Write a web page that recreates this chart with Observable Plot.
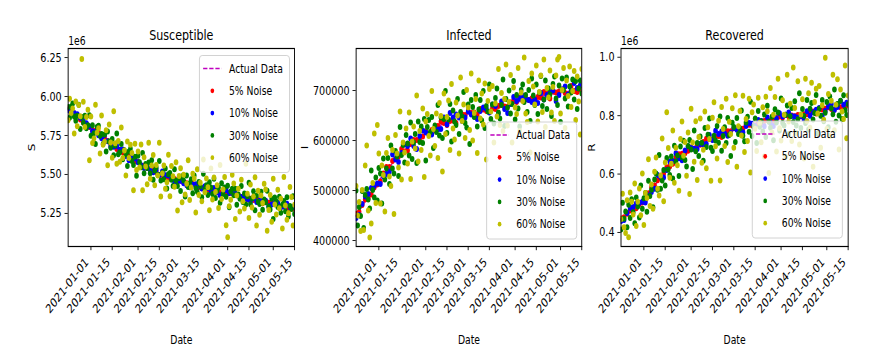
<!DOCTYPE html>
<html><head><meta charset="utf-8">
<script src="https://cdn.jsdelivr.net/npm/d3@7"></script>
<script src="https://cdn.jsdelivr.net/npm/@observablehq/plot@0.6"></script>
<style>
html,body{margin:0;padding:0;background:#fff;overflow:hidden;}
#wrap{width:875px;height:352px;overflow:hidden;position:relative;background:#fff;}
#stage{position:absolute;left:0;top:0;width:1136px;height:352px;transform:scaleX(0.77);transform-origin:0 0;}
</style></head>
<body><div id="wrap"><div id="stage"></div></div>
<script>
// ---------- categories / labels ----------
const startDate = "2020-12-17";
const endDate = "2021-05-15";
const xTickLabels = ["2021-01-01","2021-01-15","2021-02-01","2021-02-15","2021-03-01","2021-03-15","2021-04-01","2021-04-15","2021-05-01","2021-05-15"];
const panelTitles = ["Susceptible","Infected","Recovered"];
const yLabels = ["S","I","R"];
const legendLabels = ["Actual Data","5% Noise","10% Noise","30% Noise","60% Noise"];
const actualColor = "#bf00bf";
const seriesColors = ["#ff0000","#0000ff","#008000","#bfbf00"];

// y tick values (in thousands, same unit as the series)
const S_ticks = [5250,5500,5750,6000,6250];
const I_ticks = [400,500,600,700];
const R_ticks = [400,600,800,1000];

// ---------- series values (thousands of people) ----------
// Actual data and 5% / 10% noise: every other day; 30% / 60% noise: daily
const S_actual = [5920,5904,5888,5872,5856,5840,5824,5808,5792,5776,5760,5744,5728,5712,5696,5680,5667,5654,5641,5628,5615,5602,5589,5576,5566,5556,5546,5536,5526,5516,5506,5498,5490,5482,5474,5466,5458,5450,5445,5441,5436,5432,5427,5423,5418,5413,5409,5404,5400,5395,5390,5386,5381,5377,5372,5368,5363,5358,5354,5349,5345,5340,5335,5331,5326,5322,5317,5313,5308,5303,5299,5294,5290,5285,5281];
const S_noise5 = [5924,5902,5891,5878,5853,5834,5824,5804,5784,5780,5770,5746,5734,5715,5695,5689,5663,5647,5643,5635,5616,5595,5587,5580,5558,5555,5541,5538,5535,5516,5497,5496,5487,5471,5479,5471,5459,5459,5448,5443,5431,5439,5431,5420,5411,5413,5406,5408,5406,5393,5384,5391,5389,5379,5382,5370,5367,5356,5355,5341,5344,5336,5344,5334,5316,5329,5319,5317,5316,5300,5292,5306,5288,5279,5281];
const S_noise10 = [5913,5892,5894,5886,5864,5852,5828,5807,5777,5772,5752,5733,5753,5713,5679,5678,5682,5658,5660,5618,5591,5607,5603,5578,5559,5542,5545,5528,5514,5531,5497,5519,5495,5493,5474,5453,5453,5459,5444,5431,5418,5434,5437,5426,5410,5425,5414,5387,5414,5386,5367,5388,5400,5381,5381,5383,5364,5355,5344,5343,5326,5348,5324,5331,5332,5332,5296,5308,5317,5319,5290,5295,5312,5290,5292];
const S_noise30 = [5932,5864,5936,5956,5872,5844,5876,5948,5792,5868,5832,5876,5796,5816,5880,5748,5816,5764,5696,5804,5812,5748,5760,5696,5756,5648,5776,5712,5672,5728,5624,5686,5763,5629,5642,5696,5597,5655,5628,5554,5647,5665,5586,5560,5613,5491,5620,5579,5546,5637,5508,5567,5542,5577,5508,5591,5466,5525,5544,5499,5586,5462,5510,5470,5538,5410,5502,5510,5466,5426,5534,5462,5426,5478,5394,5488,5461,5359,5493,5419,5444,5470,5380,5493,5411,5389,5451,5424,5354,5504,5405,5431,5369,5450,5416,5374,5472,5349,5395,5417,5318,5444,5374,5416,5357,5427,5289,5390,5408,5366,5408,5305,5371,5345,5426,5324,5378,5308,5361,5447,5309,5346,5392,5270,5363,5325,5311,5389,5274,5340,5322,5395,5293,5275,5345,5214,5352,5326,5291,5357,5255,5305,5330,5264,5354,5231,5297,5279,5361,5246];
const S_noise60 = [5848,5985,5895,5923,5762,5968,5809,5945,5874,6240,5966,5805,5869,5915,5592,5872,5702,5730,5947,5768,5796,5635,5879,5691,5710,5783,5559,5821,5705,5607,5905,5701,5568,5715,5582,5801,5605,5653,5493,5712,5606,5690,5638,5398,5697,5529,5648,5544,5692,5399,5610,5551,5438,5703,5473,5558,5625,5431,5561,5493,5704,5358,5507,5557,5409,5450,5626,5361,5555,5488,5421,5579,5269,5490,5540,5322,5499,5371,5441,5592,5337,5416,5504,5474,5256,5533,5369,5447,5328,5596,5386,5474,5418,5271,5539,5339,5481,5388,5431,5285,5561,5343,5404,5483,5174,5098,5296,5338,5498,5442,5215,5365,5408,5262,5466,5329,5282,5568,5376,5221,5435,5288,5358,5482,5173,5396,5241,5365,5317,5441,5403,5139,5272,5369,5196,5472,5308,5243,5402,5283,5344,5153,5483,5301,5209,5251,5420,5355,5173,5305];

const I_actual = [450,459,469,478,487,497,506,515,524,531,539,546,554,561,569,576,581,586,591,596,600,605,610,615,618,622,625,628,631,635,638,640,642,644,646,648,650,652,653,655,656,658,659,661,662,664,665,666,668,669,671,672,674,676,678,679,681,683,684,686,688,689,690,691,692,693,694,695,696,697,698,699,700,701,702];
const I_noise5 = [453,457,471,482,485,492,506,512,518,534,547,547,559,563,568,583,578,580,593,601,601,600,608,618,612,621,621,629,638,635,631,639,640,635,650,652,651,659,655,656,652,663,662,659,657,664,663,669,672,668,667,676,680,677,686,680,684,681,684,680,687,686,697,693,684,698,696,698,702,695,692,709,699,697,702];
const I_noise10 = [445,451,473,488,493,505,509,514,513,528,533,538,572,562,557,575,592,589,604,589,583,609,620,616,613,612,624,622,623,646,632,655,646,652,646,639,646,658,652,648,643,659,666,663,656,672,669,654,678,663,655,673,687,679,684,690,682,681,677,682,675,695,682,691,696,700,679,691,702,708,692,700,715,705,710];
const I_noise30 = [500,430,467,449,499,425,491,503,482,464,540,501,486,526,480,545,534,474,564,522,544,565,513,590,544,534,579,568,529,627,571,591,556,611,594,570,636,563,596,613,555,638,597,628,595,643,560,627,641,617,647,585,630,617,671,610,646,605,643,699,615,642,673,598,660,638,631,683,613,657,648,697,635,626,672,593,681,667,647,691,628,662,681,640,699,625,669,658,712,643,672,634,685,704,656,644,671,722,629,683,666,700,654,673,719,642,691,664,628,701,712,677,691,657,701,639,724,690,671,712,653,696,729,669,682,720,663,704,692,649,713,728,684,671,710,637,724,701,684,726,668,708,696,722,682,719,663,704,720,694];
const I_noise60 = [509,450,477,419,501,421,550,590,460,406,434,515,614,475,631,574,474,550,531,458,575,605,528,509,581,453,611,574,546,658,522,596,576,624,554,656,523,598,628,584,690,558,619,581,664,527,638,653,609,570,699,623,589,654,565,675,649,538,694,613,647,680,581,713,624,602,676,650,574,726,639,672,605,701,666,621,734,600,655,683,575,720,644,694,632,714,562,679,703,658,709,596,674,648,743,631,695,619,683,752,630,677,731,596,706,666,653,745,619,696,679,766,654,637,719,576,734,708,672,750,638,697,730,657,762,627,705,686,740,656,707,639,730,762,767,654,701,745,625,720,689,748,667,699,739,641,728,678,612,743];

const R_actual = [445,454,462,471,480,488,497,506,517,531,546,560,574,589,603,616,629,641,654,663,669,676,682,688,693,699,704,709,714,720,725,729,732,736,739,743,746,750,753,756,759,763,766,769,772,774,777,779,781,784,786,788,791,793,795,797,798,800,802,804,806,808,810,812,815,817,819,821,823,825,827,829,830,832,834];
const R_noise5 = [448,452,464,475,478,483,497,503,511,534,554,561,579,591,602,623,626,635,656,668,670,671,680,691,687,698,700,710,721,720,718,728,730,727,743,747,747,757,755,757,755,768,769,767,767,774,775,782,785,783,782,792,797,794,803,798,801,798,802,798,805,805,817,814,807,822,821,824,829,823,821,839,829,828,834];
const R_noise10 = [439,443,467,484,487,499,501,505,503,527,539,550,597,590,588,614,643,645,671,654,647,681,695,690,687,686,703,702,703,734,717,748,737,746,739,731,741,758,752,747,743,765,775,772,765,785,782,764,794,776,765,790,808,797,803,811,799,797,793,799,789,815,800,812,820,826,800,816,831,839,819,830,850,837,844];
const R_noise30 = [410,502,447,472,418,495,450,514,469,432,520,489,451,561,481,517,535,471,577,525,546,486,581,602,546,665,550,578,614,561,655,616,597,660,585,697,643,664,593,694,658,714,648,626,696,717,684,617,749,678,706,662,729,707,646,758,693,735,790,690,679,731,715,765,707,797,680,730,760,706,792,734,662,776,761,710,792,737,756,818,731,712,777,796,745,848,730,763,790,706,816,762,781,746,804,727,834,779,759,796,716,822,777,811,749,859,775,766,802,835,737,798,826,778,849,766,788,877,758,823,799,775,854,753,824,843,787,809,871,739,824,800,854,781,810,847,760,866,825,805,890,779,840,801,851,789,870,819,802,839];
const R_noise60 = [445,533,418,398,510,384,537,505,462,568,422,505,551,459,602,426,535,518,651,491,564,481,608,657,550,527,595,722,507,640,812,689,587,635,749,570,690,630,543,720,780,663,710,594,742,532,824,708,642,781,580,727,790,639,683,814,620,760,720,577,793,846,695,653,783,578,830,754,696,858,641,779,737,825,690,870,625,764,816,732,868,676,789,713,858,605,812,838,755,679,861,776,709,829,660,865,815,604,895,742,803,864,677,926,757,715,853,803,659,940,780,841,713,965,826,741,918,701,804,856,653,926,782,877,759,913,625,847,892,807,902,690,836,786,998,754,874,730,851,940,750,837,925,684,890,814,789,972,723,869];

// ---------- dates ----------
const dailyDates = d3.utcDay.range(new Date(startDate), d3.utcDay.offset(new Date(endDate), 1));
const everyOtherDate = dailyDates.filter((d, i) => i % 2 === 0);
const xTickDates = xTickLabels.map(s => new Date(s));

const FONT = "DejaVu Sans, sans-serif";
const rows = (vals, dates) => vals.map((v, i) => ({date: dates[i], value: v}));

function drawLegend(svg, left, top) {
  const g = d3.select(svg).append("g").attr("transform", `translate(${left},${top})`)
    .attr("text-anchor", "start");
  g.append("rect").attr("width", 117).attr("height", 117).attr("rx", 3.5)
    .attr("fill", "#fff").attr("fill-opacity", 0.8).attr("stroke", "#cccccc").attr("stroke-width", 1);
  const rowY = i => 13 + i * 22.3;
  g.append("line").attr("x1", 4.8).attr("x2", 28.8).attr("y1", rowY(0)).attr("y2", rowY(0))
    .attr("stroke", actualColor).attr("stroke-width", 1.5).attr("stroke-dasharray", "5.55,2.4");
  seriesColors.forEach((c, i) => g.append("circle").attr("cx", 16.8).attr("cy", rowY(i + 1)).attr("r", 2.4).attr("fill", c));
  legendLabels.forEach((t, i) => g.append("text").attr("x", 38.4).attr("y", rowY(i)).attr("dy", "0.35em")
    .attr("text-anchor", "start").attr("font-size", 12).attr("font-family", FONT).attr("fill", "#000").text(t));
}

function panel(cfg) {
  const svg = Plot.plot({
    width: cfg.width, height: 352,
    marginLeft: cfg.ml, marginRight: cfg.mr, marginTop: 48, marginBottom: 106,
    style: {fontFamily: FONT, fontSize: "12.5px", color: "#000", background: "transparent", overflow: "visible"},
    x: {type: "utc", domain: [new Date(startDate), new Date(endDate)]},
    y: {domain: cfg.yDomain},
    marks: [
      Plot.lineY(rows(cfg.actual, everyOtherDate), {x: "date", y: "value", stroke: actualColor, strokeWidth: 1.5, strokeDasharray: "5.55,2.4", clip: true}),
      Plot.dot(rows(cfg.n5, everyOtherDate), {x: "date", y: "value", r: 3, fill: seriesColors[0], clip: true}),
      Plot.dot(rows(cfg.n10, everyOtherDate), {x: "date", y: "value", r: 3, fill: seriesColors[1], clip: true}),
      Plot.dot(rows(cfg.n30, dailyDates), {x: "date", y: "value", r: 3, fill: seriesColors[2], clip: true}),
      Plot.dot(rows(cfg.n60, dailyDates), {x: "date", y: "value", r: 3, fill: seriesColors[3], clip: true}),
      Plot.frame({stroke: "#000", strokeWidth: 1.2}),
      Plot.axisY({ticks: cfg.yTicks, tickFormat: cfg.fmt, tickSize: 4.2, tickPadding: 4.2, label: null}),
      Plot.axisX({ticks: xTickDates, tickFormat: () => "", tickSize: 4.2, label: null}),
      Plot.text(xTickLabels, {x: d => new Date(d), text: d => d, frameAnchor: "bottom", rotate: -45,
        textAnchor: "end", lineAnchor: "middle", dx: -5.1, dy: 13.5, fontSize: 12.5}),
      Plot.text([cfg.title], {text: d => d, frameAnchor: "top", textAnchor: "middle", lineAnchor: "middle", dy: -13.6, fontSize: 14.4}),
      Plot.text(["Date"], {text: d => d, frameAnchor: "bottom", textAnchor: "middle", lineAnchor: "middle", dy: 93.2, fontSize: 12}),
      Plot.text([cfg.yLabel], {text: d => d, frameAnchor: "left", textAnchor: "middle", lineAnchor: "middle", rotate: -90, dx: cfg.yLabelDx, fontSize: 12}),
      cfg.exp ? Plot.text(["1e6"], {text: d => d, frameAnchor: "top-left", textAnchor: "start", lineAnchor: "middle", dy: -7.8, fontSize: 12}) : null
    ]
  });
  svg.style.position = "absolute";
  svg.style.left = cfg.left + "px";
  svg.style.top = "0px";
  svg.style.maxWidth = "none";
  drawLegend(svg, cfg.legend[0], cfg.legend[1]);
  document.getElementById("stage").appendChild(svg);
}

panel({left: 0, width: 390, ml: 88, mr: 8, yDomain: [5038, 6308], yTicks: S_ticks, fmt: d => (d / 1000).toFixed(2),
  title: panelTitles[0], yLabel: yLabels[0], yLabelDx: -47.5, exp: true,
  actual: S_actual, n5: S_noise5, n10: S_noise10, n30: S_noise30, n60: S_noise60, legend: [259, 55.5]});
panel({left: 390, width: 375, ml: 72, mr: 10, yDomain: [388, 784], yTicks: I_ticks, fmt: d => String(d * 1000),
  title: panelTitles[1], yLabel: yLabels[1], yLabelDx: -65.9, exp: false,
  actual: I_actual, n5: I_noise5, n10: I_noise10, n30: I_noise30, n60: I_noise60, legend: [632 - 390, 122]});
panel({left: 765, width: 371, ml: 41, mr: 35, yDomain: [352, 1030], yTicks: R_ticks, fmt: d => (d / 1000).toFixed(1),
  title: panelTitles[2], yLabel: yLabels[2], yLabelDx: -38.1, exp: true,
  actual: R_actual, n5: R_noise5, n10: R_noise10, n30: R_noise30, n60: R_noise60, legend: [977 - 765, 121]});
</script>
</body></html>
